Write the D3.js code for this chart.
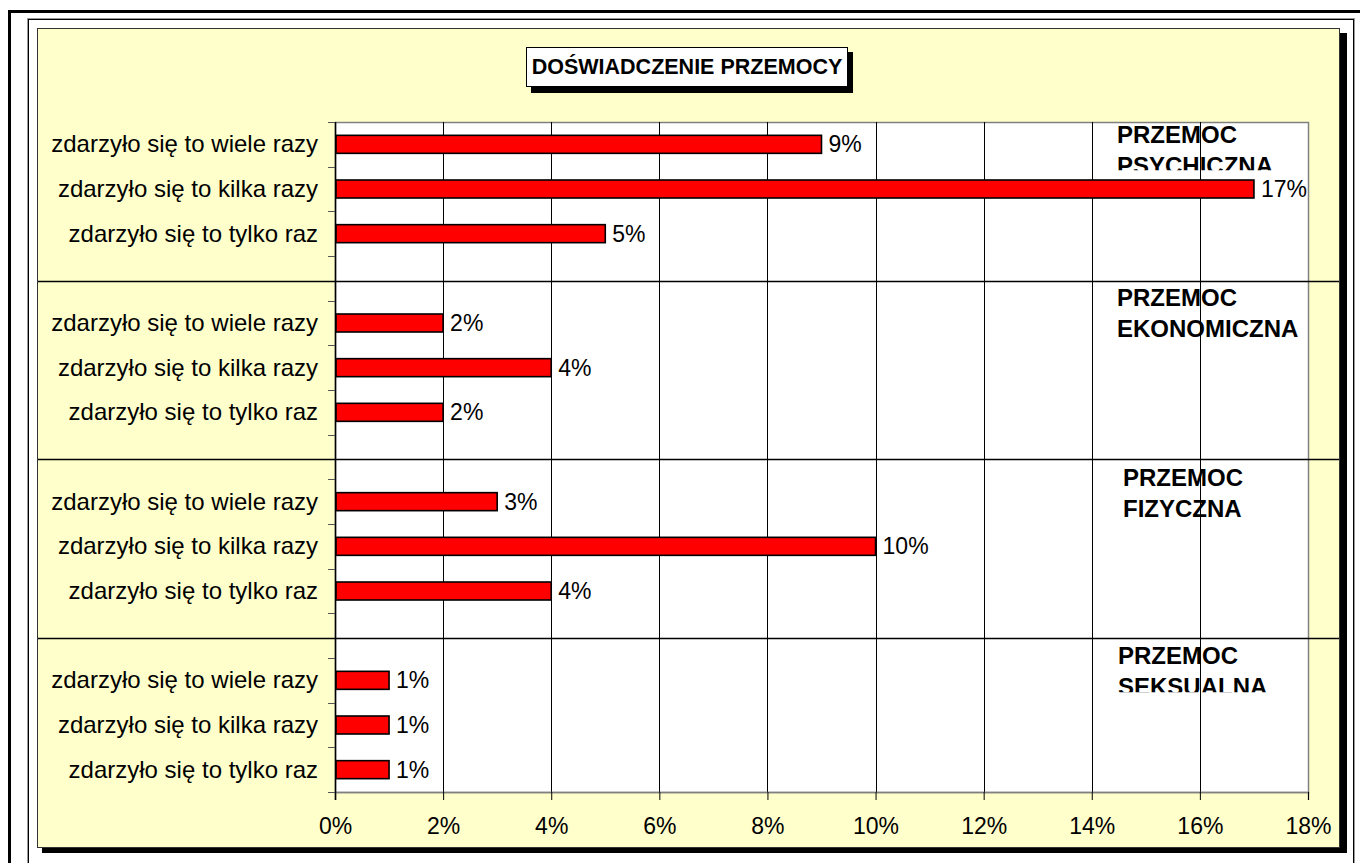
<!DOCTYPE html>
<html lang="pl">
<head>
<meta charset="UTF-8">
<title>Doświadczenie przemocy</title>
<script src="https://d3js.org/d3.v7.min.js"></script>
<style>
  body { margin: 0; background: #fff; }
  svg text { font-family: Arial, "Liberation Sans", sans-serif; }
</style>
</head>
<body>
<script>
// data
const title = "DOŚWIADCZENIE PRZEMOCY";
const answers = ["zdarzyło się to wiele razy", "zdarzyło się to kilka razy", "zdarzyło się to tylko raz"];
const groupNames = [["PRZEMOC", "PSYCHICZNA"], ["PRZEMOC", "EKONOMICZNA"], ["PRZEMOC", "FIZYCZNA"], ["PRZEMOC", "SEKSUALNA"]];
const psychiczna = [9, 17, 5];
const ekonomiczna = [2, 4, 2];
const fizyczna = [3, 10, 4];
const seksualna = [1, 1, 1];
const xTicks = [0, 2, 4, 6, 8, 10, 12, 14, 16, 18];

const series = [psychiczna, ekonomiczna, fizyczna, seksualna];

// rows: three answers per group, an empty slot between groups
const rows = [];
series.forEach((vals, g) => {
  if (g > 0) rows.push({ key: "gap" + g, gap: true });
  answers.forEach((a, i) => rows.push({ key: g + "-" + i, label: a, value: vals[i], group: g }));
});

const width = 1360, height = 863;
const plot = { left: 335, right: 1308, top: 122, bottom: 792 };

const x = d3.scaleLinear().domain([0, 18]).range([plot.left, plot.right]);
const y = d3.scaleBand().domain(rows.map(r => r.key)).range([plot.top, plot.bottom]);
const mid = k => y(k) + y.bandwidth() / 2;

const svg = d3.select("body").append("svg")
  .attr("width", width)
  .attr("height", height);

// page frames
svg.append("rect").attr("x", 9.5).attr("y", 11.5).attr("width", 1400).attr("height", 900)
  .attr("fill", "none").attr("stroke", "#000").attr("stroke-width", 3);
svg.append("rect").attr("x", 27.5).attr("y", 18.5).attr("width", 1327).attr("height", 900)
  .attr("fill", "none").attr("stroke", "#999");
svg.append("rect").attr("x", 28.5).attr("y", 19.5).attr("width", 1325).attr("height", 900)
  .attr("fill", "none").attr("stroke", "#000");

// chart area + shadow
svg.append("rect").attr("x", 42).attr("y", 33).attr("width", 1305).attr("height", 820).attr("fill", "#000");
svg.append("rect").attr("x", 37.5).attr("y", 28.5).attr("width", 1302).attr("height", 819)
  .attr("fill", "#FFFFCC").attr("stroke", "#333");

// plot area
svg.append("rect")
  .attr("x", plot.left + 0.5).attr("y", plot.top + 0.5)
  .attr("width", plot.right - plot.left).attr("height", plot.bottom - plot.top)
  .attr("fill", "#fff").attr("stroke", "#808080").attr("stroke-width", 1.5);

// vertical gridlines
svg.selectAll(".grid")
  .data(xTicks.filter(t => t > 0 && t < 18))
  .enter().append("line")
  .attr("class", "grid")
  .attr("x1", d => Math.round(x(d)) + 0.5).attr("x2", d => Math.round(x(d)) + 0.5)
  .attr("y1", plot.top).attr("y2", plot.bottom)
  .attr("stroke", "#000");

// group separators (drawn lines across the chart area)
svg.selectAll(".sep")
  .data(rows.filter(r => r.gap))
  .enter().append("line")
  .attr("class", "sep")
  .attr("x1", 38).attr("x2", 1339)
  .attr("y1", d => Math.round(mid(d.key) + 2.5) + 0.5)
  .attr("y2", d => Math.round(mid(d.key) + 2.5) + 0.5)
  .attr("stroke", "#000").attr("stroke-width", 1.5);

// x axis
const xAxis = svg.append("g")
  .attr("transform", `translate(0,${plot.bottom})`)
  .call(d3.axisBottom(x).tickValues(xTicks).tickFormat(d => d + "%").tickSize(8).tickPadding(18));
xAxis.select(".domain").attr("stroke", "#808080").attr("stroke-width", 1.5);
xAxis.selectAll(".tick line").attr("stroke", "#000");
xAxis.selectAll("text").attr("font-size", 23).attr("fill", "#000")
  .style("font-family", "Arial, 'Liberation Sans', sans-serif");

// y axis line + ticks at category boundaries
svg.append("line")
  .attr("x1", plot.left + 0.5).attr("x2", plot.left + 0.5)
  .attr("y1", plot.top).attr("y2", plot.bottom + 8)
  .attr("stroke", "#000").attr("stroke-width", 1.5);
svg.selectAll(".ytick")
  .data(rows.map(r => y(r.key)).concat([plot.bottom]))
  .enter().append("line")
  .attr("class", "ytick")
  .attr("x1", plot.left - 7).attr("x2", plot.left)
  .attr("y1", d => Math.round(d) + 0.5).attr("y2", d => Math.round(d) + 0.5)
  .attr("stroke", "#555");

const data = rows.filter(r => !r.gap);

// category labels
svg.selectAll(".cat")
  .data(data)
  .enter().append("text")
  .attr("class", "cat")
  .attr("x", 318)
  .attr("y", d => mid(d.key) + 8)
  .attr("text-anchor", "end")
  .attr("font-size", 24)
  .text(d => d.label);

// bars
const barH = 18;
svg.selectAll(".bar")
  .data(data)
  .enter().append("rect")
  .attr("class", "bar")
  .attr("x", x(0) + 1)
  .attr("y", d => mid(d.key) - barH / 2)
  .attr("width", d => x(d.value) - x(0) - 1)
  .attr("height", barH)
  .attr("fill", "#FF0000")
  .attr("stroke", "#000")
  .attr("stroke-width", 1.6);

// value labels
svg.selectAll(".val")
  .data(data)
  .enter().append("text")
  .attr("class", "val")
  .attr("x", d => x(d.value) + 7)
  .attr("y", d => mid(d.key) + 8)
  .attr("font-size", 23)
  .text(d => d.value + "%");

// group labels (text boxes, some clipped at the bottom)
const groupBox = [
  { dx: 1117, dy: -1, clip: 27 },
  { dx: 1117, dy: -17, clip: 60 },
  { dx: 1123, dy: -16, clip: 60 },
  { dx: 1118, dy: -16, clip: 28 }
];
groupNames.forEach((lines, g) => {
  const first = mid(g + "-0");
  const b = groupBox[g];
  const base = first + b.dy;
  svg.append("clipPath").attr("id", "clip" + g)
    .append("rect").attr("x", b.dx - 5).attr("y", base - 25)
    .attr("width", 200).attr("height", 25 + b.clip);
  const t = svg.append("text")
    .attr("clip-path", `url(#clip${g})`)
    .attr("font-size", 24)
    .attr("font-weight", "bold");
  lines.forEach((l, i) => {
    t.append("tspan").attr("x", b.dx).attr("y", base + i * 31).text(l);
  });
});

// title box
svg.append("rect").attr("x", 531).attr("y", 52).attr("width", 322).attr("height", 41).attr("fill", "#000");
svg.append("rect").attr("x", 526.5).attr("y", 47.5).attr("width", 321).attr("height", 39)
  .attr("fill", "#fff").attr("stroke", "#000");
svg.append("text")
  .attr("x", 687)
  .attr("y", 74)
  .attr("text-anchor", "middle")
  .attr("font-size", 21.5)
  .attr("font-weight", "bold")
  .text(title);
</script>
</body>
</html>
